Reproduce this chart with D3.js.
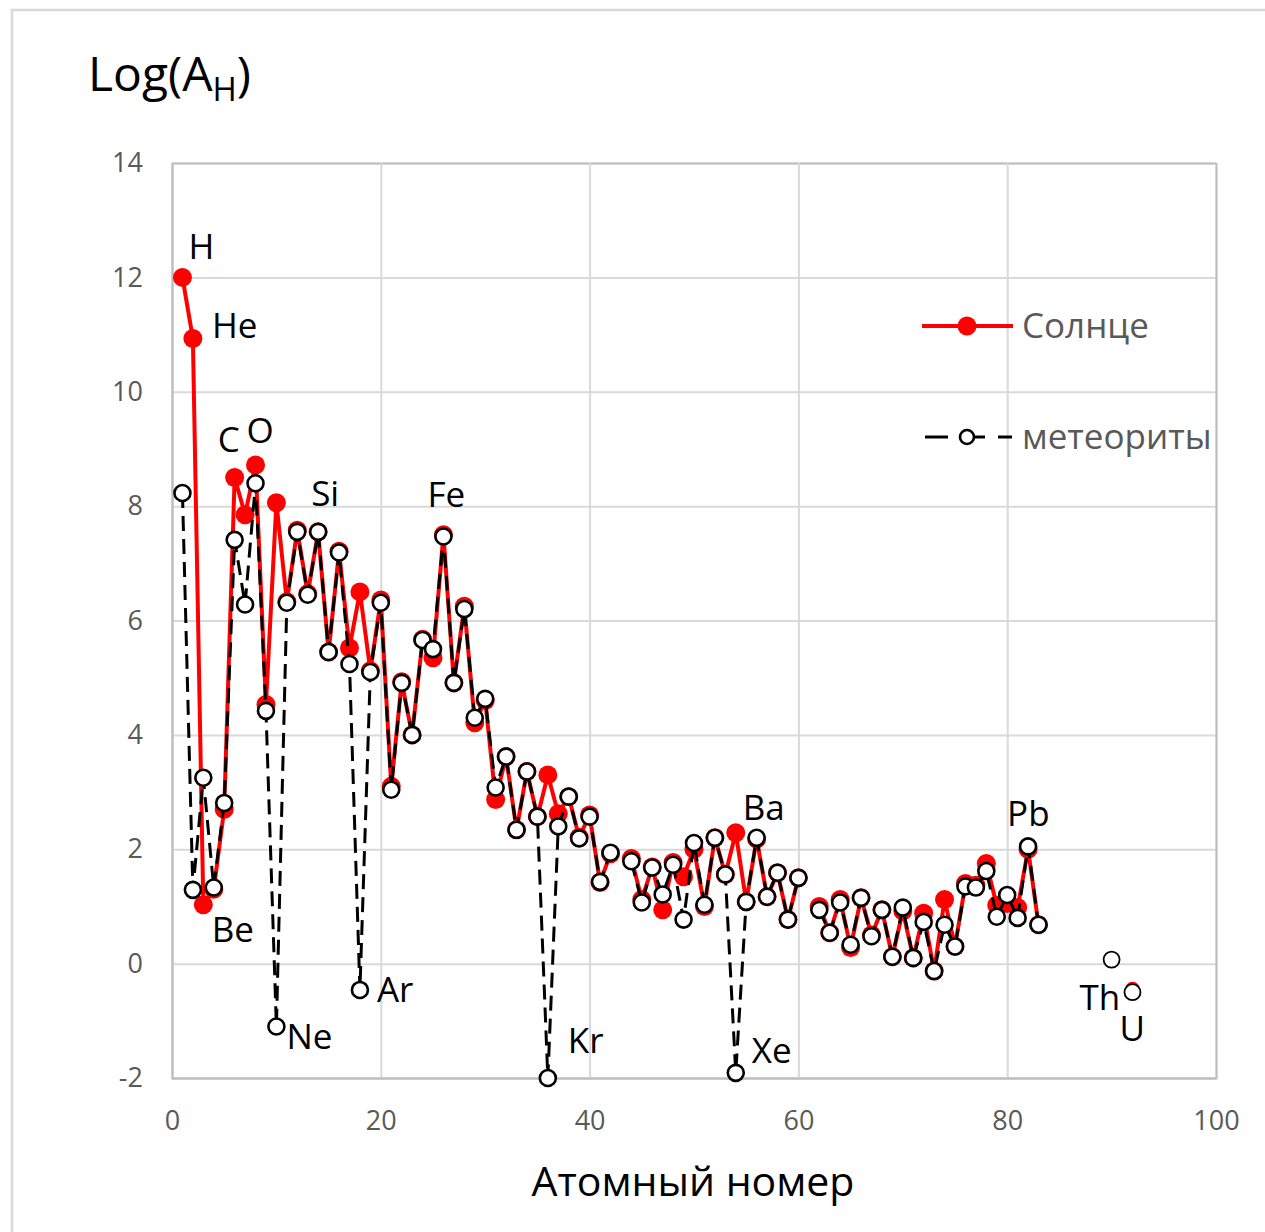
<!DOCTYPE html>
<html>
<head>
<meta charset="utf-8">
<script src="https://cdn.jsdelivr.net/npm/d3@7"></script>
<style>
  body { margin: 0; background: #fff; }
  svg { display: block; font-family: "Open Sans", sans-serif; }
</style>
</head>
<body>
<svg id="chart" width="1265" height="1232"></svg>
<script>
// atomic numbers that have values
let atomicNumbers = [1,2,3,4,5,6,7,8,9,10,11,12,13,14,15,16,17,18,19,20,
  21,22,23,24,25,26,27,28,29,30,31,32,33,34,35,36,37,38,39,40,41,42,
  44,45,46,47,48,49,50,51,52,53,54,55,56,57,58,59,60,
  62,63,64,65,66,67,68,69,70,71,72,73,74,75,76,77,78,79,80,81,82,83,
  90,92];

// Солнце (photosphere)
let sunValues = [12.00,10.93,1.03,1.30,2.70,8.50,7.85,8.72,4.53,8.06,6.33,7.58,6.47,7.55,5.45,7.21,5.52,6.50,5.12,6.36,
  3.10,4.93,4.00,5.67,5.35,7.50,4.91,6.25,4.21,4.60,2.87,3.62,2.34,3.36,2.57,3.30,2.62,2.92,2.21,2.60,1.42,1.92,
  1.84,1.12,1.69,0.94,1.77,1.52,2.00,1.00,2.20,1.56,2.29,1.08,2.18,1.17,1.59,0.77,1.50,
  1.00,0.54,1.12,0.28,1.15,0.50,0.94,0.12,0.92,0.10,0.88,-0.13,1.12,0.30,1.40,1.37,1.75,1.02,1.05,0.98,2.00,0.68,
  null,-0.45];

// метеориты
let meteoriteValues = [8.23,1.29,3.25,1.33,2.81,7.41,6.28,8.40,4.42,-1.10,6.31,7.55,6.45,7.55,5.45,7.19,5.24,-0.46,5.10,6.31,
  3.04,4.91,4.00,5.66,5.50,7.47,4.91,6.20,4.30,4.63,3.08,3.62,2.34,3.36,2.57,-2.00,2.40,2.92,2.19,2.57,1.43,1.94,
  1.79,1.07,1.68,1.21,1.73,0.77,2.11,1.03,2.20,1.56,-1.91,1.08,2.20,1.17,1.59,0.77,1.50,
  0.94,0.54,1.07,0.33,1.15,0.48,0.94,0.12,0.98,0.10,0.73,-0.13,0.68,0.30,1.35,1.33,1.62,0.82,1.20,0.80,2.05,0.68,
  0.07,-0.50];

let xTicks = [0, 20, 40, 60, 80, 100];
let yTicks = [-2, 0, 2, 4, 6, 8, 10, 12, 14];

let labelElements = ["H","He","C","O","Si","Fe","Be","Ne","Ar","Kr","Ba","Xe","Pb","Th","U"];
let labelZ = [1,2,6,8,14,26,4,10,18,36,56,54,82,90,92];
// which series each label hangs on ("s" = Солнце, "m" = метеориты)
let labelSeries = ["s","s","s","s","m","m","m","m","m","m","m","m","m","m","m"];
// pixel offsets of each label relative to its point
let labelOffsets = {
  H: [6, -18], He: [19, -1], C: [-17, -26], O: [-9, -22], Si: [-7, -26], Fe: [-16, -28],
  Be: [-2, 54], Ne: [10, 22], Ar: [17, 12], Kr: [20, -25], Ba: [-14, -18], Xe: [16, -10],
  Pb: [-21, -20], Th: [-32, 50], U: [-13, 49]
};

let svg = d3.select("#chart");
let margin = { left: 172, top: 163, right: 1216, bottom: 1078 };

let x = d3.scaleLinear().domain([0, 100]).range([margin.left, margin.right]);
let y = d3.scaleLinear().domain([-2, 14]).range([margin.bottom, margin.top]);

// outer frame
svg.append("rect")
  .attr("x", 12).attr("y", 10)
  .attr("width", 1270).attr("height", 1240)
  .attr("fill", "none").attr("stroke", "#d9d9d9").attr("stroke-width", 2.5);

// grid + y axis
let yAxis = svg.append("g")
  .attr("transform", "translate(" + margin.left + ",0)")
  .call(d3.axisLeft(y).tickValues(yTicks).tickFormat(d => String(d))
    .tickSize(-(margin.right - margin.left)).tickPadding(29));
yAxis.selectAll(".tick line").attr("stroke", "#d9d9d9").attr("stroke-width", 2);
yAxis.selectAll(".tick text").attr("fill", "#595959").attr("font-size", 27)
  .attr("font-family", "Open Sans, sans-serif");

let xAxis = svg.append("g")
  .attr("transform", "translate(0," + margin.bottom + ")")
  .call(d3.axisBottom(x).tickValues(xTicks).tickFormat(d => String(d))
    .tickSize(-(margin.bottom - margin.top)).tickPadding(33));
xAxis.selectAll(".tick line").attr("stroke", "#d9d9d9").attr("stroke-width", 2);
xAxis.selectAll(".tick text").attr("fill", "#595959").attr("font-size", 27)
  .attr("font-family", "Open Sans, sans-serif");

// left and bottom lines on top of grid
yAxis.select(".domain").attr("stroke", "#bfbfbf").attr("stroke-width", 2).raise();
xAxis.select(".domain").attr("stroke", "#bfbfbf").attr("stroke-width", 2).raise();

// build full 1..92 series so gaps break the lines
function fullSeries(values) {
  let byZ = new Map(atomicNumbers.map((z, i) => [z, values[i]]));
  return d3.range(1, 93).map(z => ({ z: z, v: byZ.has(z) ? byZ.get(z) : null }));
}
let sun = fullSeries(sunValues);
let met = fullSeries(meteoriteValues);

let line = d3.line()
  .defined(d => d.v != null)
  .x(d => x(d.z))
  .y(d => y(d.v));

// Солнце
svg.append("path")
  .datum(sun)
  .attr("d", line)
  .attr("fill", "none")
  .attr("stroke", "#ff0000")
  .attr("stroke-width", 4)
  .attr("stroke-linejoin", "round");

svg.append("g").selectAll("circle")
  .data(sun.filter(d => d.v != null))
  .enter().append("circle")
    .attr("cx", d => x(d.z))
    .attr("cy", d => y(d.v))
    .attr("r", d => d.z > 85 ? 7.5 : 9.5)
    .attr("fill", "#ff0000");

// метеориты
svg.append("path")
  .datum(met)
  .attr("d", line)
  .attr("fill", "none")
  .attr("stroke", "#000")
  .attr("stroke-width", 3)
  .attr("stroke-dasharray", "15,8");

svg.append("g").selectAll("circle")
  .data(met.filter(d => d.v != null))
  .enter().append("circle")
    .attr("cx", d => x(d.z))
    .attr("cy", d => y(d.v))
    .attr("r", 8)
    .attr("fill", "#fff")
    .attr("stroke", "#000")
    .attr("stroke-width", d => d.z > 85 ? 1.8 : 2.6);

// element labels
let sunByZ = new Map(atomicNumbers.map((z, i) => [z, sunValues[i]]));
let metByZ = new Map(atomicNumbers.map((z, i) => [z, meteoriteValues[i]]));
svg.append("g").selectAll("text")
  .data(labelElements)
  .enter().append("text")
    .attr("x", (d, i) => x(labelZ[i]) + labelOffsets[d][0])
    .attr("y", (d, i) => {
      let v = labelSeries[i] === "s" ? sunByZ.get(labelZ[i]) : metByZ.get(labelZ[i]);
      if (d === "Si" || d === "Fe" || d === "Pb") v = Math.max(v, sunByZ.get(labelZ[i]));
      return y(v) + labelOffsets[d][1];
    })
    .attr("font-size", 35)
    .attr("fill", "#000")
    .text(d => d);

// y title
let yTitle = svg.append("text")
  .attr("x", 88).attr("y", 91)
  .attr("font-size", 48)
  .attr("fill", "#000");
yTitle.append("tspan").text("Log(A");
yTitle.append("tspan").attr("font-size", 33).attr("dy", 10).text("H");
yTitle.append("tspan").attr("dy", -10).text(")");

// x title
svg.append("text")
  .attr("x", 693).attr("y", 1196)
  .attr("text-anchor", "middle")
  .attr("font-size", 41)
  .attr("fill", "#000")
  .text("Атомный номер");

// legend
let legend = svg.append("g");
legend.append("line")
  .attr("x1", 922).attr("x2", 1013).attr("y1", 326).attr("y2", 326)
  .attr("stroke", "#ff0000").attr("stroke-width", 4);
legend.append("circle")
  .attr("cx", 967).attr("cy", 326).attr("r", 9.5).attr("fill", "#ff0000");
legend.append("text")
  .attr("x", 1022).attr("y", 338)
  .attr("font-size", 35).attr("fill", "#595959")
  .text("Солнце");

[[925, 948], [960, 985], [998, 1012]].forEach(s => {
  legend.append("line")
    .attr("x1", s[0]).attr("x2", s[1]).attr("y1", 437).attr("y2", 437)
    .attr("stroke", "#000").attr("stroke-width", 3);
});
legend.append("circle")
  .attr("cx", 967).attr("cy", 437).attr("r", 7)
  .attr("fill", "#fff").attr("stroke", "#000").attr("stroke-width", 2.6);
legend.append("text")
  .attr("x", 1022).attr("y", 449)
  .attr("font-size", 35).attr("fill", "#595959")
  .text("метеориты");
</script>
</body>
</html>
